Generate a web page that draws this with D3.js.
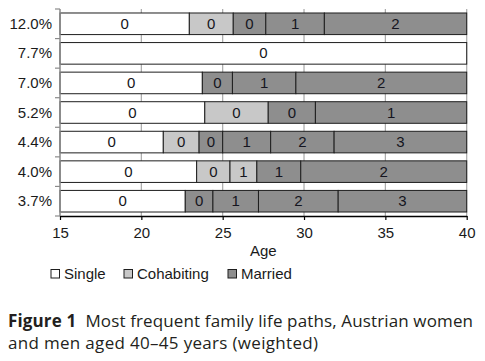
<!DOCTYPE html>
<html>
<head>
<meta charset="utf-8">
<script src="https://cdn.jsdelivr.net/npm/d3@7"></script>
<style>
  body { margin: 0; background: #fff; }
  svg { display: block; font-family: "Liberation Sans", Arial, sans-serif; }
</style>
</head>
<body>
<svg id="drawing_region"></svg>
<script>
// row labels = share of respondents following each path
const rowLabels = ["12.0%", "7.7%", "7.0%", "5.2%", "4.4%", "4.0%", "3.7%"];

// union status of each spell: S = single, C = cohabiting, M = married
const states = [
    ["S", "C", "M", "M", "M"],
    ["S"],
    ["S", "M", "M", "M"],
    ["S", "C", "M", "M"],
    ["S", "C", "M", "M", "M", "M"],
    ["S", "C", "C", "M", "M"],
    ["S", "M", "M", "M", "M"]
];

// age at which each spell ends (first spell starts at 15)
const ends = [
    [22.95, 25.65, 27.65, 31.25, 40],
    [40],
    [23.75, 25.6, 29.5, 40],
    [23.9, 27.8, 30.7, 40],
    [21.35, 23.55, 25.0, 27.95, 31.85, 40],
    [23.4, 25.45, 27.1, 29.8, 40],
    [22.7, 24.4, 27.2, 32.1, 40]
];

// number of children during each spell
const children = [
    [0, 0, 0, 1, 2],
    [0],
    [0, 0, 1, 2],
    [0, 0, 0, 1],
    [0, 0, 0, 1, 2, 3],
    [0, 0, 1, 1, 2],
    [0, 0, 1, 2, 3]
];

const xTicks = [15, 20, 25, 30, 35, 40];
const stateNames = { S: "Single", C: "Cohabiting", M: "Married" };
const stateColors = { S: "#ffffff", C: "#c8c8c8", M: "#8e8e8e" };

const width = 485, height = 361;
const margin = { top: 9, left: 60, right: 18.3, bottom: 145 };

const svg = d3.select("#drawing_region")
    .attr("width", width)
    .attr("height", height);

const xscale = d3.scaleLinear()
    .domain([15, 40])
    .range([margin.left, width - margin.right]);

const yscale = d3.scaleBand()
    .domain(rowLabels)
    .range([margin.top, height - margin.bottom])
    .paddingInner(0.27)
    .paddingOuter(0.135);

// build segments
const segments = [];
rowLabels.forEach((r, i) => {
    let start = 15;
    states[i].forEach((s, j) => {
        segments.push({ row: r, state: s, x0: start, x1: ends[i][j], n: children[i][j] });
        start = ends[i][j];
    });
});

// vertical grid lines
svg.append("g")
    .selectAll("line")
    .data(xTicks.slice(1))
    .join("line")
    .attr("x1", d => xscale(d)).attr("x2", d => xscale(d))
    .attr("y1", margin.top).attr("y2", height - margin.bottom)
    .attr("stroke", "#a8a8a8")
    .attr("stroke-width", 1.2);

// bars
const bars = svg.append("g");
bars.selectAll("rect")
    .data(segments)
    .join("rect")
    .attr("x", d => xscale(d.x0))
    .attr("y", d => yscale(d.row))
    .attr("width", d => xscale(d.x1) - xscale(d.x0))
    .attr("height", yscale.bandwidth())
    .attr("fill", d => stateColors[d.state])
    .attr("stroke", "#1e1e1e")
    .attr("stroke-width", 1);

bars.selectAll("text")
    .data(segments)
    .join("text")
    .attr("x", d => (xscale(d.x0) + xscale(d.x1)) / 2)
    .attr("y", d => yscale(d.row) + yscale.bandwidth() / 2 + 5)
    .attr("text-anchor", "middle")
    .attr("font-size", 15)
    .attr("fill", "#151520")
    .text(d => d.n);

// y axis: gray line with ticks between rows
const yaxis_group = svg.append("g");
const step = yscale.step();
const y0 = yscale.range()[0];
yaxis_group.append("line")
    .attr("x1", margin.left).attr("x2", margin.left)
    .attr("y1", margin.top).attr("y2", height - margin.bottom)
    .attr("stroke", "#8a8a8a").attr("stroke-width", 1.5);
yaxis_group.selectAll(".tk")
    .data(d3.range(rowLabels.length + 1))
    .join("line")
    .attr("class", "tk")
    .attr("x1", margin.left - 5).attr("x2", margin.left)
    .attr("y1", i => y0 + i * step).attr("y2", i => y0 + i * step)
    .attr("stroke", "#8a8a8a").attr("stroke-width", 1.2);
yaxis_group.selectAll("text")
    .data(rowLabels)
    .join("text")
    .attr("x", margin.left - 8)
    .attr("y", d => yscale(d) + yscale.bandwidth() / 2 + 5)
    .attr("text-anchor", "end")
    .attr("font-size", 15)
    .attr("fill", "#1a1a1a")
    .text(d => d);

// x axis
const xaxis = d3.axisBottom(xscale)
    .tickValues(xTicks)
    .tickSize(4)
    .tickSizeOuter(0);
const xaxis_group = svg.append("g")
    .attr("transform", `translate(0, ${height - margin.bottom})`)
    .call(xaxis);
xaxis_group.select(".domain").attr("stroke", "#000").attr("stroke-width", 1.3);
xaxis_group.selectAll(".tick line").attr("stroke", "#000").attr("stroke-width", 1.2);
xaxis_group.selectAll(".tick text")
    .attr("font-size", 15)
    .attr("font-family", "Liberation Sans, Arial, sans-serif")
    .attr("fill", "#1a1a1a")
    .attr("dy", "1em");

svg.append("text")
    .attr("x", (xscale(15) + xscale(40)) / 2)
    .attr("y", 256)
    .attr("text-anchor", "middle")
    .attr("font-size", 15)
    .attr("fill", "#1a1a1a")
    .text("Age");

// legend
const legendX = [51, 124, 228];
const legend = svg.append("g");
["S", "C", "M"].forEach((s, i) => {
    legend.append("rect")
        .attr("x", legendX[i]).attr("y", 269.5)
        .attr("width", 8.5).attr("height", 8.5)
        .attr("fill", stateColors[s])
        .attr("stroke", "#1e1e1e").attr("stroke-width", 1);
    legend.append("text")
        .attr("x", legendX[i] + 13).attr("y", 278.5)
        .attr("font-size", 15)
        .attr("fill", "#1a1a1a")
        .text(stateNames[s]);
});

// caption
const caption = svg.append("text")
    .attr("font-family", "Open Sans, Noto Sans, sans-serif")
    .attr("font-size", 17)
    .attr("fill", "#231f20");
const line1 = caption.append("tspan")
    .attr("x", 8).attr("y", 327)
    .attr("textLength", 465)
    .attr("lengthAdjust", "spacing");
line1.append("tspan").attr("font-weight", "bold").text("Figure 1");
line1.append("tspan").text("\u00a0\u00a0Most frequent family life paths, Austrian women");
caption.append("tspan")
    .attr("x", 8).attr("y", 348.5)
    .attr("textLength", 310)
    .attr("lengthAdjust", "spacing")
    .text("and men aged 40\u201345 years (weighted)");
</script>
</body>
</html>
